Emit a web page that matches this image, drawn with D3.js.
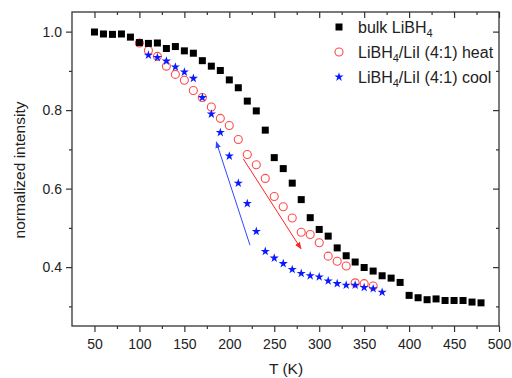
<!DOCTYPE html>
<html>
<head>
<meta charset="utf-8">
<script src="https://cdn.jsdelivr.net/npm/d3@7"></script>
<style>
  body { margin: 0; background: #fff; }
  text { font-family: "Liberation Sans", Arial, sans-serif; }
</style>
</head>
<body>
<div id="chart"></div>
<script>
// temperatures (K)
var tBulk = [50,60,70,80,90,100,110,120,130,140,150,160,170,180,190,200,210,220,230,240,
  250,260,270,280,290,300,310,320,330,340,350,360,370,380,390,400,410,420,430,440,450,460,470,480];
var bulk = [0.999,0.994,0.993,0.994,0.986,0.972,0.970,0.971,0.957,0.962,0.951,0.945,0.926,0.912,0.901,0.877,0.857,0.823,0.798,0.749,
  0.679,0.651,0.614,0.572,0.526,0.496,0.479,0.449,0.429,0.413,0.399,0.390,0.378,0.372,0.361,0.328,0.322,0.317,0.319,0.315,0.315,0.315,0.311,0.309];

var tHeat = [100,110,120,130,140,150,160,170,180,190,200,210,220,230,240,250,260,270,280,290,300,310,320,330,340,350,360];
var heat = [0.971,0.952,0.937,0.912,0.891,0.876,0.850,0.832,0.808,0.779,0.761,0.725,0.687,0.661,0.626,0.580,0.554,0.525,0.489,0.483,0.462,0.428,0.415,0.403,0.360,0.358,0.352];

var tCool = [110,120,130,140,150,160,170,180,190,200,210,220,230,240,250,260,270,280,290,300,310,320,330,340,350,360,370];
var cool = [0.940,0.934,0.925,0.910,0.897,0.881,0.832,0.790,0.743,0.683,0.614,0.562,0.491,0.440,0.423,0.409,0.394,0.384,0.378,0.375,0.365,0.358,0.354,0.354,0.348,0.345,0.336];

var xTicks = [50,100,150,200,250,300,350,400,450,500];
var xMinor = [75,125,175,225,275,325,375,425,475];
var yTicks = [0.4,0.6,0.8,1.0];
var yMinor = [0.3,0.5,0.7,0.9];

// arrows [T, value] start -> end
var arrowCool = [[223, 0.456], [185.5, 0.719]];
var arrowHeat = [[215.5, 0.676], [279.7, 0.447]];

const width = 512;
const height = 378;
const mLeft = 72, mRight = 499, mTop = 12, mBottom = 326;

const svg = d3.select('#chart')
  .append('svg')
  .attr('width', width)
  .attr('height', height);

var x = d3.scaleLinear().domain([25, 500]).range([mLeft, mRight]);
var y = d3.scaleLinear().domain([0.25, 1.05]).range([mBottom, mTop]);

svg.append('defs').selectAll('marker')
  .data([['ahBlue', '#3344ff'], ['ahRed', '#ff2222']])
  .enter().append('marker')
  .attr('id', d => d[0])
  .attr('viewBox', '0 0 10 10')
  .attr('refX', 9).attr('refY', 5)
  .attr('markerWidth', 7).attr('markerHeight', 7)
  .attr('markerUnits', 'userSpaceOnUse')
  .attr('orient', 'auto')
  .append('path')
  .attr('d', 'M0,1 L10,5 L0,9 Z')
  .attr('fill', d => d[1]);

// axes
function tickAxis(axisFn, scale, values, size, transform, labels) {
  var g = svg.append('g')
    .attr('transform', transform)
    .call(axisFn(scale).tickValues(values).tickSize(size).tickSizeOuter(0)
      .tickFormat(labels ? d3.format('.1f') : ''));
  g.select('.domain').remove();
  g.selectAll('line').attr('stroke', '#333').attr('stroke-width', 1.2);
  return g;
}

var bx = tickAxis(d3.axisBottom, x, xTicks, 6, 'translate(0,' + mBottom + ')', true);
bx.selectAll('text').text(d => d).attr('font-size', 14).attr('fill', '#222').attr('y', 12).attr('dy', '0.75em');
tickAxis(d3.axisBottom, x, xMinor, 3, 'translate(0,' + mBottom + ')', false);
tickAxis(d3.axisTop, x, xTicks, -6, 'translate(0,' + mTop + ')', false);
tickAxis(d3.axisTop, x, xMinor, -3, 'translate(0,' + mTop + ')', false);

var ly = tickAxis(d3.axisLeft, y, yTicks, 6, 'translate(' + mLeft + ',0)', true);
ly.selectAll('text').attr('font-size', 14).attr('fill', '#222').attr('x', -10);
tickAxis(d3.axisLeft, y, yMinor, 3, 'translate(' + mLeft + ',0)', false);
tickAxis(d3.axisRight, y, yTicks, -6, 'translate(' + mRight + ',0)', false);
tickAxis(d3.axisRight, y, yMinor, -3, 'translate(' + mRight + ',0)', false);

svg.append('rect')
  .attr('x', mLeft).attr('y', mTop)
  .attr('width', mRight - mLeft).attr('height', mBottom - mTop)
  .attr('fill', 'none').attr('stroke', '#333').attr('stroke-width', 1.3);

svg.append('text')
  .attr('x', 286).attr('y', 374)
  .attr('text-anchor', 'middle').attr('font-size', 15.5).attr('fill', '#222')
  .text('T (K)');

svg.append('text')
  .attr('transform', 'translate(25,170) rotate(-90)')
  .attr('text-anchor', 'middle').attr('font-size', 15.5).attr('fill', '#222')
  .text('normalized intensity');

// arrows
svg.append('line')
  .attr('x1', x(arrowCool[0][0])).attr('y1', y(arrowCool[0][1]))
  .attr('x2', x(arrowCool[1][0])).attr('y2', y(arrowCool[1][1]))
  .attr('stroke', '#3344ff').attr('stroke-width', 1)
  .attr('marker-end', 'url(#ahBlue)');
svg.append('line')
  .attr('x1', x(arrowHeat[0][0])).attr('y1', y(arrowHeat[0][1]))
  .attr('x2', x(arrowHeat[1][0])).attr('y2', y(arrowHeat[1][1]))
  .attr('stroke', '#ff2222').attr('stroke-width', 1)
  .attr('marker-end', 'url(#ahRed)');

// series
var star = d3.symbol().type(d3.symbolStar).size(26);

svg.append('g').selectAll('circle')
  .data(tHeat)
  .enter()
  .append('circle')
  .attr('cx', d => x(d))
  .attr('cy', (d, i) => y(heat[i]))
  .attr('r', 4)
  .attr('fill', 'none')
  .attr('stroke', '#ff4a4a')
  .attr('stroke-width', 1.1);

svg.append('g').selectAll('path')
  .data(tCool)
  .enter()
  .append('path')
  .attr('d', star)
  .attr('transform', (d, i) => 'translate(' + x(d) + ',' + y(cool[i]) + ')')
  .attr('fill', '#0a1aff');

svg.append('g').selectAll('rect')
  .data(tBulk)
  .enter()
  .append('rect')
  .attr('x', d => x(d) - 3.5)
  .attr('y', (d, i) => y(bulk[i]) - 3.5)
  .attr('width', 7)
  .attr('height', 7)
  .attr('fill', '#000');

// legend
var lx = 339;
svg.append('rect').attr('x', lx - 3.5).attr('y', 27 - 3.5).attr('width', 7).attr('height', 7).attr('fill', '#000');
svg.append('circle').attr('cx', lx).attr('cy', 52).attr('r', 4)
  .attr('fill', 'none').attr('stroke', '#ff4a4a').attr('stroke-width', 1.1);
svg.append('path').attr('d', star).attr('transform', 'translate(' + lx + ',77)').attr('fill', '#0a1aff');

function legendText(yb, parts) {
  var t = svg.append('text').attr('x', 358).attr('y', yb).attr('font-size', 16).attr('fill', '#222');
  parts.forEach(function(p) {
    var s = t.append('tspan').text(p[0]);
    if (p[1]) s.attr('font-size', 11).attr('dy', 4);
    else if (p[2]) s.attr('dy', -4);
  });
}
legendText(33, [['bulk LiBH'], ['4', true]]);
legendText(58, [['LiBH'], ['4', true], ['/LiI (4:1) heat', false, true]]);
legendText(83, [['LiBH'], ['4', true], ['/LiI (4:1) cool', false, true]]);
</script>
</body>
</html>
